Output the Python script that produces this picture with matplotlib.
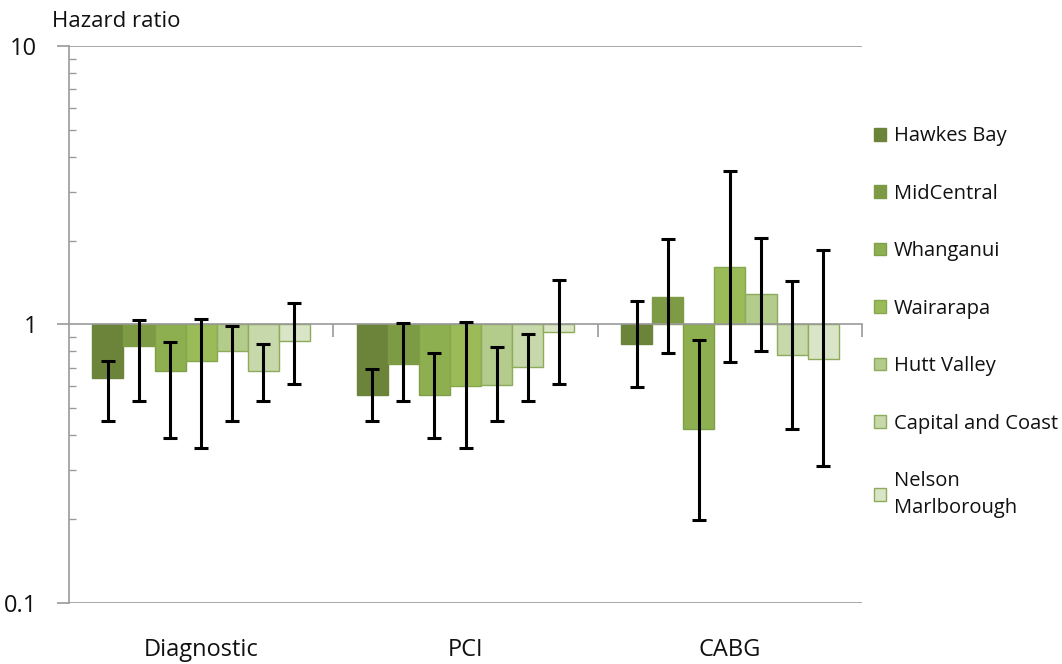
import numpy as np
import matplotlib
matplotlib.use('Agg')
import matplotlib.pyplot as plt
from matplotlib.patches import Patch
from matplotlib.ticker import LogLocator, NullFormatter, FixedLocator, FixedFormatter
import matplotlib.transforms as mtransforms

plt.rcParams['font.family'] = ['Open Sans', 'DejaVu Sans']

# Data
procedures = ['Diagnostic', 'PCI', 'CABG']
regions = ['Hawkes Bay', 'MidCentral', 'Whanganui', 'Wairarapa',
           'Hutt Valley', 'Capital and Coast', 'Nelson\nMarlborough']

# hazard ratio per region, one value per procedure
hr = [
    [0.64, 0.556, 0.85],   # Hawkes Bay
    [0.84, 0.724, 1.26],   # MidCentral
    [0.68, 0.556, 0.42],   # Whanganui
    [0.74, 0.60, 1.61],    # Wairarapa
    [0.80, 0.607, 1.29],   # Hutt Valley
    [0.68, 0.705, 0.774],  # Capital and Coast
    [0.87, 0.939, 0.751],  # Nelson Marlborough
]
ci_low = [
    [0.449, 0.449, 0.597],
    [0.533, 0.532, 0.789],
    [0.392, 0.391, 0.198],
    [0.360, 0.359, 0.732],
    [0.449, 0.449, 0.804],
    [0.533, 0.532, 0.421],
    [0.610, 0.610, 0.310],
]
ci_high = [
    [0.740, 0.693, 1.216],
    [1.036, 1.010, 2.03],
    [0.867, 0.787, 0.883],
    [1.048, 1.020, 3.55],
    [0.986, 0.829, 2.05],
    [0.850, 0.923, 1.43],
    [1.190, 1.440, 1.85],
]

colors = ['#6c843a', '#7d9a45', '#8daf50', '#9bbb59',
          '#b3cb8b', '#c7d9aa', '#d9e5c6']
edges = ['#6c843a', '#7d9a45', '#7f9f48', '#86a84d',
         '#8dab5a', '#8dab5a', '#8dab5a']

fig = plt.figure(figsize=(10.62, 6.64), dpi=100)
ax = fig.add_axes([0.065, 0.092, 0.7467, 0.8387])

n = len(regions)
width = 1 / (n + 1.5)
x = np.arange(len(procedures)) + 0.5

for i in range(n):
    pos = x + (i - (n - 1) / 2) * width
    vals = np.array(hr[i])
    ax.bar(pos, vals - 1, bottom=1, width=width, color=colors[i],
           edgecolor=edges[i], linewidth=1, zorder=2)

for i in range(n):
    pos = x + (i - (n - 1) / 2) * width
    vals = np.array(hr[i])
    lo = vals - np.array(ci_low[i])
    hi = np.array(ci_high[i]) - vals
    ax.errorbar(pos, vals, yerr=[lo, hi], fmt='none', ecolor='black',
                elinewidth=2.2, capsize=4.8, capthick=2.2, zorder=3)

ax.set_yscale('log')
ax.set_ylim(0.1, 10)
ax.set_xlim(0, 3)

grey = '#9a9a9a'
ax.axhline(10, color=grey, lw=1.2, zorder=1)
ax.axhline(0.1, color=grey, lw=1.2, zorder=1)

# axis styling
for s in ['top', 'right']:
    ax.spines[s].set_visible(False)
ax.spines['left'].set_color(grey)
ax.spines['left'].set_linewidth(1.2)
ax.spines['bottom'].set_position(('data', 1))
ax.spines['bottom'].set_color(grey)
ax.spines['bottom'].set_linewidth(1.2)
ax.spines['bottom'].set_zorder(2.5)

ax.yaxis.set_major_locator(FixedLocator([0.1, 1, 10]))
ax.yaxis.set_major_formatter(FixedFormatter(['0.1', '1', '10']))
ax.yaxis.set_minor_locator(LogLocator(base=10, subs=np.arange(2, 10)))
ax.yaxis.set_minor_formatter(NullFormatter())
ax.tick_params(axis='y', which='major', direction='out', length=9,
               color=grey, width=1.2, labelsize=17, labelcolor='#111111',
               pad=14)
ax.tick_params(axis='y', which='minor', direction='in', length=5,
               color=grey, width=1)

ax.xaxis.set_major_locator(FixedLocator([1, 2, 3]))
ax.xaxis.set_major_formatter(NullFormatter())
ax.xaxis.set_minor_locator(FixedLocator([]))
ax.tick_params(axis='x', which='major', direction='out', length=9,
               color=grey, width=1.2)

trans = mtransforms.blended_transform_factory(ax.transData, ax.transAxes)
for xi, lab in zip(x, procedures):
    ax.text(xi, -0.085, lab, transform=trans, ha='center', va='center',
            fontsize=17, color='#111111')

fig.text(0.049, 0.968, 'Hazard ratio', fontsize=16, ha='left',
         va='center', color='#111111')

handles = [Patch(facecolor=colors[i], edgecolor=edges[i], label=regions[i])
           for i in range(n)]
leg = fig.legend(handles=handles, loc='upper left',
                 bbox_to_anchor=(0.815, 0.822), frameon=False, fontsize=14.5,
                 labelspacing=1.86, handlelength=0.6, handleheight=0.6,
                 handletextpad=0.4, borderaxespad=0)
for t in leg.get_texts():
    t.set_color('#111111')
    t.set_linespacing(1.45)

fig.savefig('out.png', dpi=100)
